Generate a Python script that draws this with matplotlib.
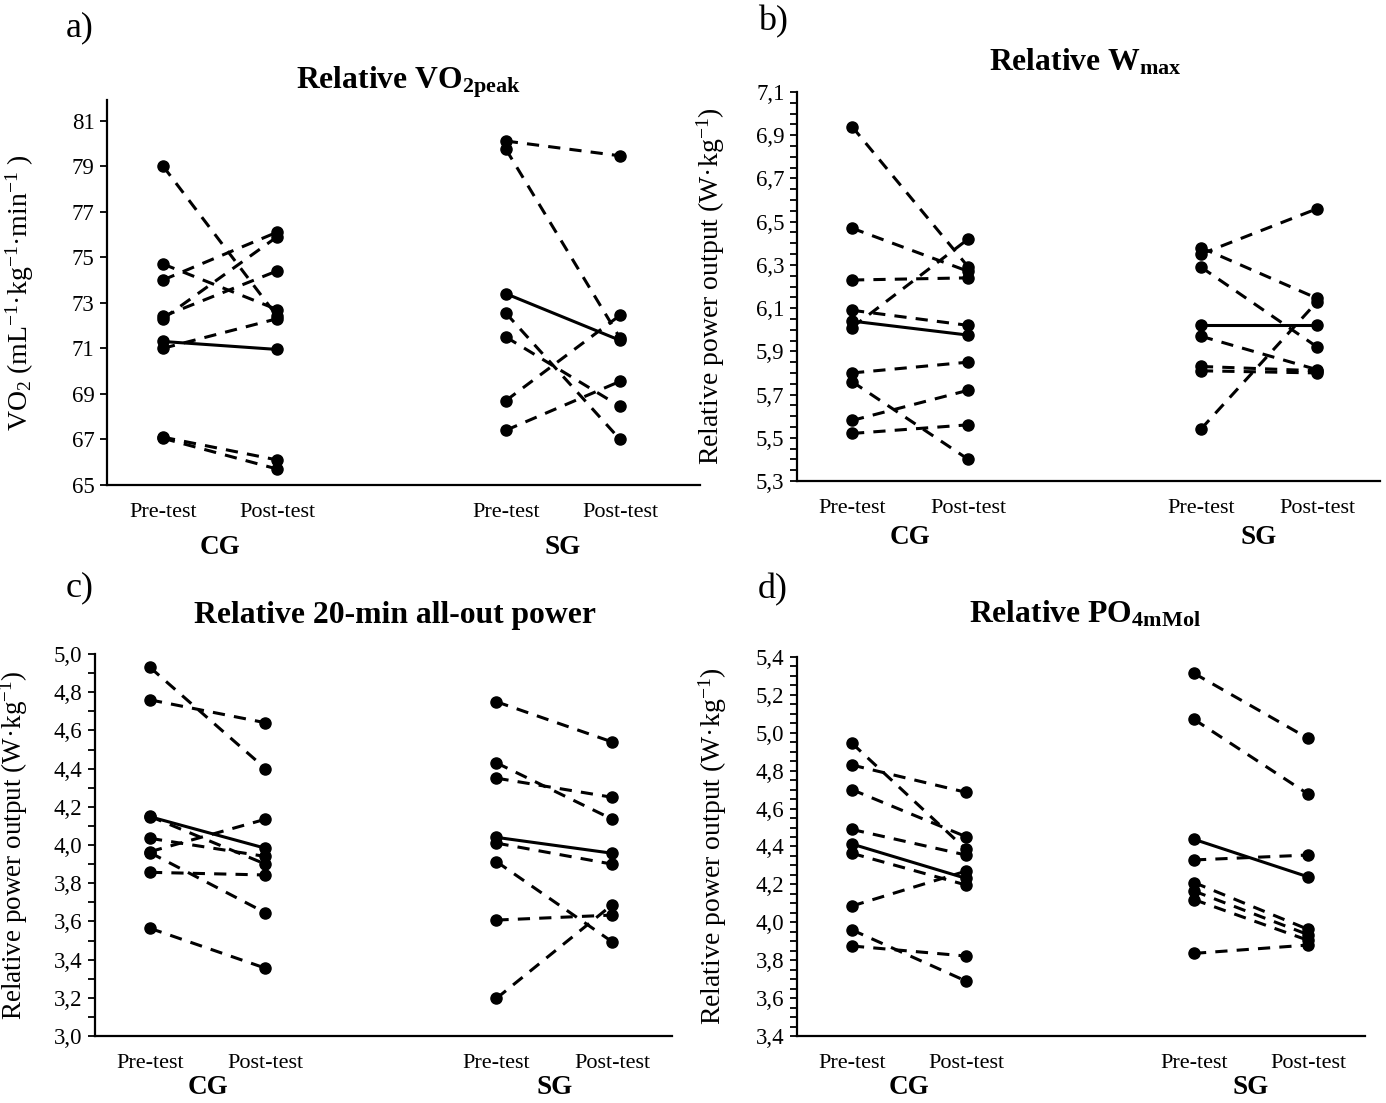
import matplotlib
matplotlib.use("Agg")
import matplotlib.pyplot as plt
from matplotlib.ticker import MultipleLocator, FuncFormatter

plt.rcParams['font.family'] = ['Liberation Serif', 'DejaVu Serif']
plt.rcParams['mathtext.fontset'] = 'custom'
plt.rcParams['mathtext.rm'] = 'Liberation Serif'
plt.rcParams['mathtext.it'] = 'Liberation Serif:italic'
plt.rcParams['mathtext.bf'] = 'Liberation Serif:bold'

# x positions: CG pre/post, SG pre/post
x_cg = [1, 2]
x_sg = [4, 5]
xtick_labels = ['Pre-test', 'Post-test', 'Pre-test', 'Post-test']
groups = ['CG', 'SG']

# a) relative VO2peak
a_cg_pre = [79.0, 74.7, 74.0, 72.4, 72.3, 71.0, 67.1, 67.05]
a_cg_post = [72.4, 72.7, 76.1, 74.4, 75.9, 72.3, 66.1, 65.7]
a_cg_mean = [71.3, 70.95]
a_sg_pre = [80.1, 79.75, 72.55, 71.5, 68.7, 67.4]
a_sg_post = [79.45, 71.45, 67.0, 68.45, 72.45, 69.55]
a_sg_mean = [73.4, 71.35]

# b) relative Wmax
b_cg_pre = [6.94, 6.47, 6.23, 6.09, 6.01, 5.80, 5.76, 5.58, 5.52]
b_cg_post = [6.29, 6.27, 6.24, 6.02, 6.42, 5.85, 5.40, 5.72, 5.56]
b_cg_mean = [6.04, 5.975]
b_sg_pre = [6.38, 6.35, 6.29, 5.97, 5.83, 5.81, 5.54]
b_sg_post = [6.145, 6.56, 5.92, 5.815, 5.81, 5.80, 6.13]
b_sg_mean = [6.02, 6.02]

# c) relative 20-min all-out power
c_cg_pre = [4.93, 4.76, 4.15, 4.035, 3.965, 3.96, 3.857, 3.564]
c_cg_post = [4.40, 4.64, 3.90, 3.94, 4.135, 3.645, 3.843, 3.355]
c_cg_mean = [4.148, 3.983]
c_sg_pre = [4.75, 4.43, 4.35, 4.01, 3.913, 3.607, 3.197]
c_sg_post = [4.54, 4.136, 4.25, 3.90, 3.494, 3.633, 3.686]
c_sg_mean = [4.04, 3.957]

# d) relative PO4mMol
d_cg_pre = [4.945, 4.83, 4.70, 4.49, 4.364, 4.086, 3.96, 3.875]
d_cg_post = [4.385, 4.686, 4.452, 4.355, 4.197, 4.27, 3.69, 3.822]
d_cg_mean = [4.413, 4.232]
d_sg_pre = [5.314, 5.071, 4.329, 4.21, 4.165, 4.12, 3.836]
d_sg_post = [4.971, 4.677, 4.355, 3.963, 3.935, 3.905, 3.88]
d_sg_mean = [4.438, 4.24]

W, H = 1386, 1103
fig = plt.figure(figsize=(W / 100, H / 100), dpi=100)


def px_axes(l, t, r, b):
    return fig.add_axes([l / W, 1 - b / H, (r - l) / W, (b - t) / H])


def draw_group(ax, xs, pre, post, mean):
    for p0, p1 in zip(pre, post):
        ax.plot(xs, [p0, p1], color='black', lw=2.2, ls=(0, (4, 3)),
                marker='o', ms=8, dash_capstyle='butt')
    ax.plot(xs, mean, color='black', lw=2.2, marker='o', ms=8)


def style_axes(ax, xlim, ylim, major, minor, fmt, ylabel, group_off,
               label_x=-0.12, label_size=20):
    ax.set_xlim(*xlim)
    ax.set_ylim(*ylim)
    for s in ['top', 'right']:
        ax.spines[s].set_visible(False)
    for s in ['left', 'bottom']:
        ax.spines[s].set_linewidth(1.6)
    ax.yaxis.set_major_locator(MultipleLocator(major))
    if minor:
        ax.yaxis.set_minor_locator(MultipleLocator(minor))
        ax.tick_params(axis='y', which='minor', length=5, width=1.3)
    ax.yaxis.set_major_formatter(FuncFormatter(fmt))
    ax.tick_params(axis='y', which='major', length=5, width=1.3, labelsize=16.5, pad=4)
    ax.set_xticks(x_cg + x_sg)
    ax.set_xticklabels(xtick_labels, fontsize=16)
    ax.tick_params(axis='x', length=0, pad=13)
    for gx, g in zip([1.5, 4.5], groups):
        ax.annotate(g, xy=(gx, 0), xycoords=('data', 'axes fraction'),
                    xytext=(0, group_off), textcoords='offset points',
                    ha='center', va='center', fontsize=19.5, fontweight='bold')
    ax.set_ylabel(ylabel, fontsize=label_size)
    ax.yaxis.set_label_coords(label_x, 0.5)


comma1 = lambda v, pos: f"{v:.1f}".replace('.', ',')
integer = lambda v, pos: f"{v:.0f}"

# panel a
ax = px_axes(107, 100, 700, 485)
draw_group(ax, x_cg, a_cg_pre, a_cg_post, a_cg_mean)
draw_group(ax, x_sg, a_sg_pre, a_sg_post, a_sg_mean)
style_axes(ax, (0.51, 5.70), (65, 81.9), 2, None, integer,
           'VO$_2$ (mL$^{-1}$·kg$^{-1}$·min$^{-1}$ )', -45)
ax.set_yticks(range(65, 82, 2))

# panel b
ax = px_axes(797, 92, 1380, 481)
draw_group(ax, x_cg, b_cg_pre, b_cg_post, b_cg_mean)
draw_group(ax, x_sg, b_sg_pre, b_sg_post, b_sg_mean)
style_axes(ax, (0.527, 5.54), (5.3, 7.1), 0.2, 0.05, comma1,
           'Relative power output (W·kg$^{-1}$)', -41)
ax.set_yticks([5.3 + 0.2 * i for i in range(10)])

# panel c
ax = px_axes(95, 654, 672, 1036)
draw_group(ax, x_cg, c_cg_pre, c_cg_post, c_cg_mean)
draw_group(ax, x_sg, c_sg_pre, c_sg_post, c_sg_mean)
style_axes(ax, (0.524, 5.52), (3.0, 5.0), 0.2, 0.1, comma1,
           'Relative power output (W·kg$^{-1}$)', -37,
           label_x=-0.112, label_size=19.5)

# panel d
ax = px_axes(797, 657, 1365, 1036)
draw_group(ax, x_cg, d_cg_pre, d_cg_post, d_cg_mean)
draw_group(ax, x_sg, d_sg_pre, d_sg_post, d_sg_mean)
style_axes(ax, (0.518, 5.5), (3.4, 5.4), 0.2, 0.05, comma1,
           'Relative power output (W·kg$^{-1}$)', -37)

# titles and panel letters
titles = [('Relative VO$_\\mathbf{2peak}$', 408, 82),
          ('Relative W$_\\mathbf{max}$', 1085, 62),
          ('Relative 20-min all-out power', 395, 616),
          ('Relative PO$_\\mathbf{4mMol}$', 1085, 614)]
for t, x, y in titles:
    fig.text(x / W, 1 - y / H, t, ha='center', va='center',
             fontsize=22.8, fontweight='bold')

letters = [('a)', 80, 28), ('b)', 773, 22), ('c)', 80, 588), ('d)', 773, 590)]
for t, x, y in letters:
    fig.text(x / W, 1 - y / H, t, ha='center', va='center', fontsize=26)

fig.savefig('out.png', dpi=100)
